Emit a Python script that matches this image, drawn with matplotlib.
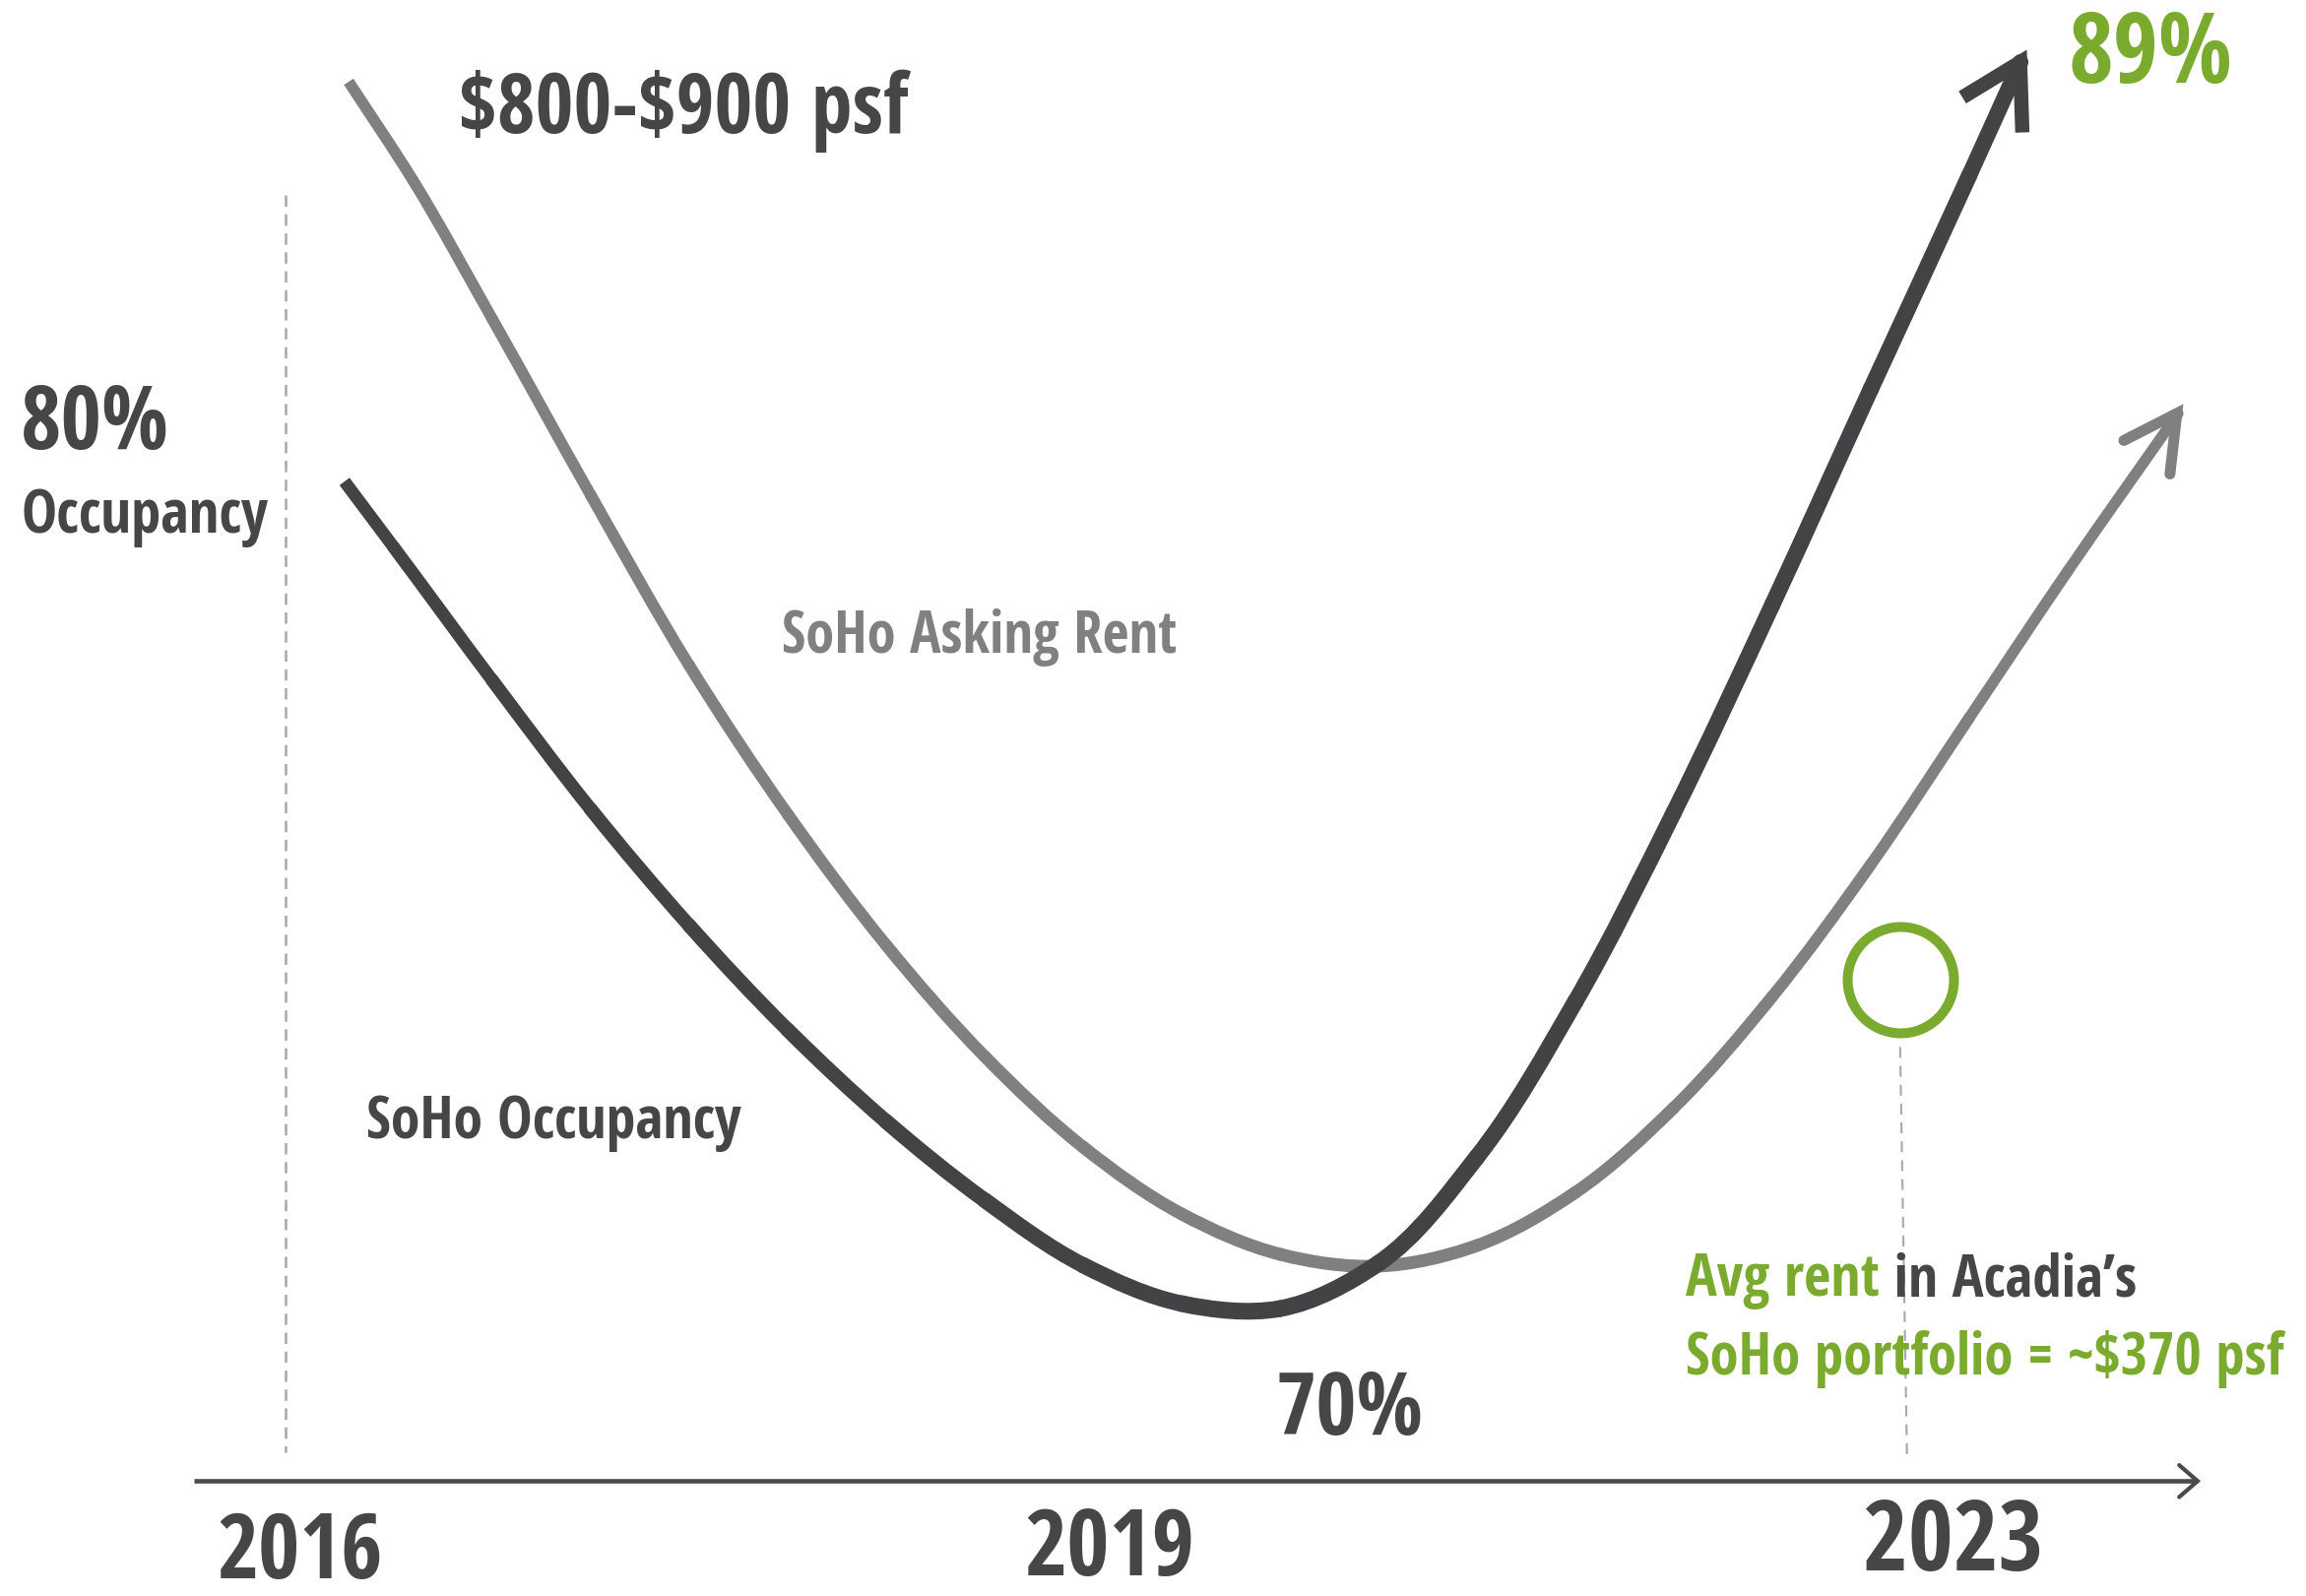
import matplotlib
matplotlib.use("Agg")
import matplotlib.pyplot as plt
import numpy as np
from matplotlib import font_manager
from matplotlib.font_manager import FontProperties
from matplotlib.path import Path
from matplotlib.patches import PathPatch
from matplotlib.textpath import TextPath

# colours
DARK = "#434345"
GREY = "#808080"
GREEN = "#7bab2e"
TEXT = "#464646"
DASH = "#a8a8a8"

# SoHo occupancy curve: timeline position (% of width) and level (% of height)
occ_t = [14.94, 17.08, 21.35, 25.62, 29.89, 34.16, 38.43, 42.70, 46.97, 51.24,
         55.51, 59.78, 64.05, 68.32, 72.59, 76.86, 81.13, 85.40, 87.62]
occ_lvl = [69.83, 65.70, 57.37, 49.29, 42.01, 35.47, 29.73, 24.80, 20.73, 18.32,
           18.01, 20.85, 27.51, 37.26, 49.11, 62.12, 75.63, 89.02, 96.11]
occ_head_t = [85.1, 87.6, 87.7]
occ_head_lvl = [93.9, 96.1, 91.7]

# SoHo asking rent curve
rent_t = [15.12, 17.93, 21.35, 25.62, 29.89, 34.16, 38.43, 42.70, 46.97, 51.24,
          55.51, 59.78, 64.05, 68.32, 72.59, 76.86, 81.13, 85.40, 89.67, 94.45]
rent_lvl = [94.88, 88.65, 80.01, 68.97, 58.30, 48.98, 40.78, 33.81, 28.13, 23.94,
            21.41, 20.67, 21.96, 25.29, 30.60, 37.57, 45.84, 55.03, 64.22, 74.09]
rent_head_t = [92.1, 94.4, 94.1]
rent_head_lvl = [72.4, 74.1, 70.3]

# Acadia portfolio marker
acadia_t = [82.4]
acadia_lvl = [38.6]

year_labels = ["2016", "2019", "2023"]
year_t = [13.0, 48.1, 84.7]

PX = 72 / 100  # points per pixel at dpi 100


def pick_font():
    # the original uses a narrow bold face: take the narrowest bold one installed
    ok = {"DejaVu Sans", "DejaVu Sans Condensed", "Liberation Sans",
          "Liberation Sans Narrow", "Noto Sans", "Roboto", "Roboto Condensed",
          "Open Sans", "Open Sans Condensed", "Lato", "Inter"}
    best = None
    for f in font_manager.fontManager.ttflist:
        if f.name not in ok or f.style != "normal":
            continue
        if not f.fname.lower().endswith((".ttf", ".otf")):
            continue
        w = f.weight if isinstance(f.weight, int) else {"bold": 700, "semibold": 600}.get(str(f.weight).lower(), 400)
        if w < 600 or w > 700:
            continue
        prop = FontProperties(fname=f.fname)
        try:
            wid = TextPath((0, 0), "SoHo Occupancy 2016", size=100, prop=prop).get_extents().width
            cap = TextPath((0, 0), "H", size=100, prop=prop).get_extents().height
        except Exception:
            continue
        if cap <= 0 or wid <= 0:
            continue
        r = wid / cap
        if best is None or r < best[0]:
            best = (r, prop, cap / 100)
    if best is None:
        return FontProperties(family="DejaVu Sans", weight="bold"), 0.73
    return best[1], best[2]


FONT, CAP = pick_font()

fig = plt.figure(figsize=(23.42, 16.21), dpi=100)
ax = fig.add_axes([0, 0, 1, 1])
ax.set_xlim(0, 100)
ax.set_ylim(0, 100)
ax.axis("off")
renderer = fig.canvas.get_renderer()


def smooth(xs, ys, color, widths):
    # smooth cubic pieces through the read points, tangents weighted by gap length
    pts = np.column_stack([xs, ys])
    scale = np.array([23.42, 16.21])
    n = len(pts)
    d = np.hypot(*((np.diff(pts, axis=0) * scale).T))
    tang = np.zeros_like(pts)
    tang[0] = (pts[1] - pts[0]) / d[0]
    tang[-1] = (pts[-1] - pts[-2]) / d[-1]
    for k in range(1, n - 1):
        a = (pts[k] - pts[k - 1]) / d[k - 1]
        b = (pts[k + 1] - pts[k]) / d[k]
        tang[k] = (a * d[k] + b * d[k - 1]) / (d[k - 1] + d[k])
    for i in range(n - 1):
        c1 = pts[i] + tang[i] * d[i] / 3
        c2 = pts[i + 1] - tang[i + 1] * d[i] / 3
        path = Path([pts[i], c1, c2, pts[i + 1]], [Path.MOVETO] + [Path.CURVE4] * 3)
        ax.add_patch(PathPatch(path, fill=False, edgecolor=color, lw=widths[i] * PX,
                               capstyle="butt" if i == 0 else "round"))


def label(x, y, s, cap, width, color, ha="left"):
    # size from cap height, shrunk if the face is too wide
    size = cap / CAP * PX
    t = ax.text(x, y, s, fontproperties=FONT, color=color, ha=ha, va="baseline",
                parse_math=False)
    t.set_fontsize(size)
    w = t.get_window_extent(renderer).width
    if w > width * 1.03:
        t.set_fontsize(size * width / w)
    return t


# guide lines
ax.plot([12.4, 12.4], [87.8, 9.0], color=DASH, lw=1.8, dashes=(4.6, 3.1))
ax.plot([82.4, 82.7], [34.4, 8.5], color=DASH, lw=1.5, dashes=(5.3, 3.9))

# time axis
ax.plot([8.4, 95.3], [7.2, 7.2], color="#4a4a4a", lw=3.3, solid_capstyle="butt")
ax.plot([94.5, 95.3, 94.5], [8.2, 7.2, 6.2], color="#4a4a4a", lw=3.0,
        solid_capstyle="round", solid_joinstyle="miter")

# curves (stroke widths in pixels, thicker towards the trough like the original)
rent_w = [11.5, 11.5, 11.6, 11.8, 12, 12.2, 12.4, 12.6, 12.8, 13, 13, 13, 12.8,
          12.6, 12.3, 12, 11.7, 11.4, 11.2]
smooth(rent_t, rent_lvl, GREY, rent_w)
ax.plot(rent_head_t, rent_head_lvl, color=GREY, lw=11 * PX, solid_capstyle="round",
        solid_joinstyle="miter")
occ_w = [12.7, 13, 13.5, 14, 14.5, 15, 15.5, 16, 16.5, 17, 17, 17, 16.8, 16.6,
         16.5, 16.5, 16.5, 16.2]
smooth(occ_t, occ_lvl, DARK, occ_w)
ax.plot(occ_head_t, occ_head_lvl, color=DARK, lw=14.5 * PX, solid_capstyle="butt",
        solid_joinstyle="miter")

ax.plot(acadia_t, acadia_lvl, marker="o", ms=108 * PX, mfc="none", mec=GREEN,
        mew=10 * PX, ls="none")

# labels
label(19.9, 91.7, "$800-$900 psf", 60, 446, TEXT)
label(89.7, 94.8, "89%", 75, 167, GREEN)
label(0.9, 71.9, "80%", 68, 151, TEXT)
label(0.9, 66.6, "Occupancy", 45, 251, TEXT)
label(33.9, 59.1, "SoHo Asking Rent", 46, 401, GREY)
label(15.9, 28.7, "SoHo Occupancy", 45, 381, TEXT)
label(55.3, 10.1, "70%", 67, 150, TEXT)

full = label(73.1, 18.8, "Avg rent in Acadia\u2019s", 44, 458, TEXT)
size = full.get_fontsize()
full.remove()
t1 = ax.text(73.1, 18.8, "Avg rent", fontproperties=FONT, color=GREEN, va="baseline")
t1.set_fontsize(size)
bb = t1.get_window_extent(renderer)
x_end = ax.transData.inverted().transform((bb.x1, bb.y0))[0]
t2 = ax.text(x_end, 18.8, " in Acadia\u2019s", fontproperties=FONT, color=TEXT,
             va="baseline")
t2.set_fontsize(size)
label(73.1, 13.9, "SoHo portfolio = ~$370 psf", 47, 607, GREEN)

year_base = [1.1, 1.3, 1.6]
year_width = [169, 173, 183]
for yr, xt, yb, w in zip(year_labels, year_t, year_base, year_width):
    label(xt, yb, yr, 76, w, TEXT, ha="center")

fig.savefig("out.png", dpi=100)
